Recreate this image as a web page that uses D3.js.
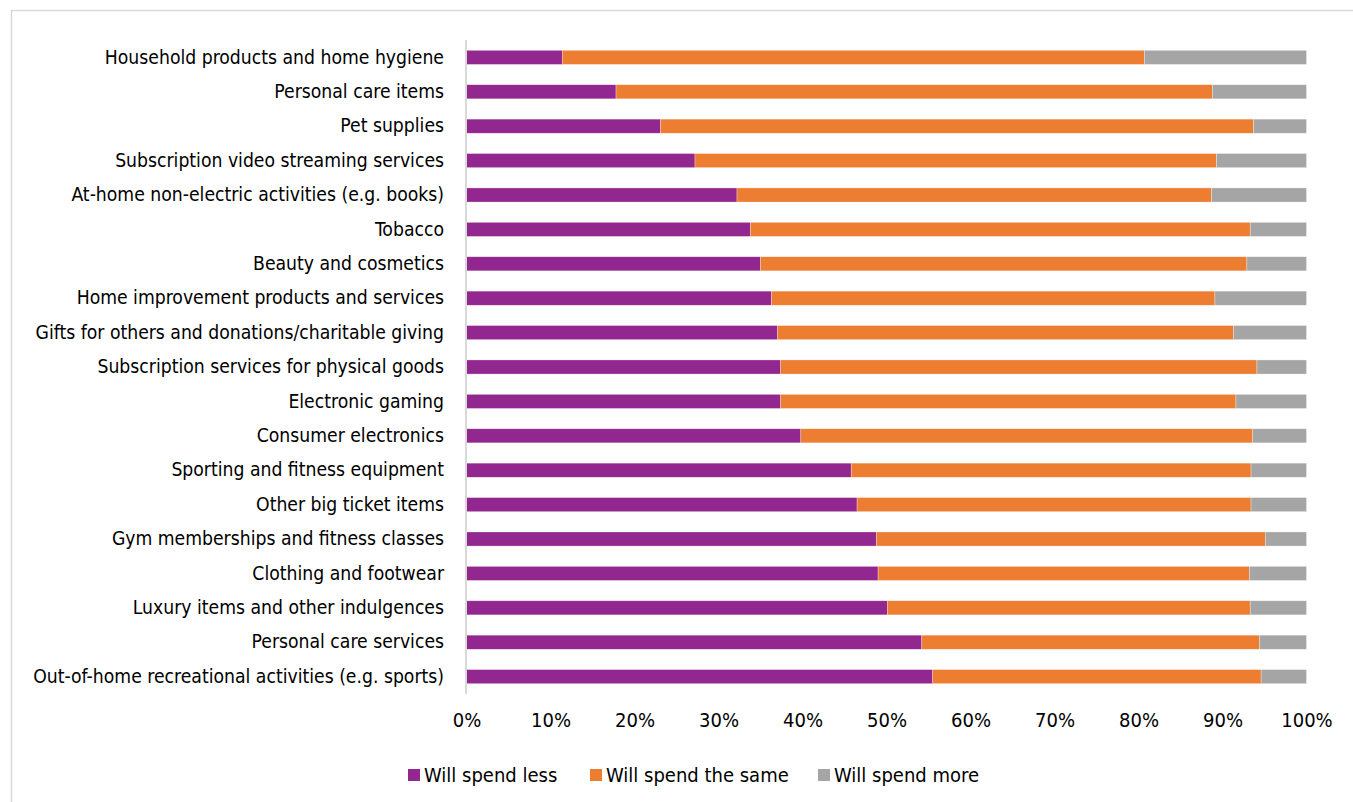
<!DOCTYPE html>
<html>
<head>
<meta charset="utf-8">
<script src="https://cdn.jsdelivr.net/npm/d3@7"></script>
<style>
  body { margin: 0; background: #fff; }
  svg text { font-family: "DejaVu Sans Condensed", "DejaVu Sans", sans-serif; font-stretch: condensed; fill: #000; }
</style>
</head>
<body>
<div id="chart"></div>
<script>
(function () {
    // Data
    const categories = [
        "Household products and home hygiene",
        "Personal care items",
        "Pet supplies",
        "Subscription video streaming services",
        "At-home non-electric activities (e.g. books)",
        "Tobacco",
        "Beauty and cosmetics",
        "Home improvement products and services",
        "Gifts for others and donations/charitable giving",
        "Subscription services for physical goods",
        "Electronic gaming",
        "Consumer electronics",
        "Sporting and fitness equipment",
        "Other big ticket items",
        "Gym memberships and fitness classes",
        "Clothing and footwear",
        "Luxury items and other indulgences",
        "Personal care services",
        "Out-of-home recreational activities (e.g. sports)"
    ];
    const seriesNames = ["Will spend less", "Will spend the same", "Will spend more"];
    const spendLess = [11.4, 17.8, 23.1, 27.2, 32.2, 33.8, 35.0, 36.3, 37.0, 37.4, 37.4, 39.8, 45.8, 46.5, 48.8, 49.0, 50.1, 54.2, 55.5];
    const spendSame = [69.3, 71.0, 70.6, 62.1, 56.5, 59.5, 57.9, 52.8, 54.3, 56.7, 54.2, 53.8, 47.6, 46.9, 46.3, 44.2, 43.2, 40.2, 39.1];
    const spendMore = [19.3, 11.2, 6.3, 10.7, 11.3, 6.7, 7.1, 10.9, 8.7, 5.9, 8.4, 6.4, 6.6, 6.6, 4.9, 6.8, 6.7, 5.6, 5.4];
    const tickValues = [0, 0.1, 0.2, 0.3, 0.4, 0.5, 0.6, 0.7, 0.8, 0.9, 1];
    const colors = ["#92278F", "#ED7D31", "#A5A5A5"];

    const W = 1353, H = 802;
    const margin = { top: 40, right: 47, bottom: 108, left: 466 };
    const width = W - margin.left - margin.right;
    const height = H - margin.top - margin.bottom;

    const svgRoot = d3.select("#chart").append("svg")
        .attr("width", W)
        .attr("height", H);

    // chart frame
    svgRoot.append("rect")
        .attr("x", 11.5).attr("y", 10.5)
        .attr("width", W).attr("height", H)
        .attr("fill", "none")
        .attr("stroke", "#d9d9d9")
        .attr("stroke-width", 1.5);

    const svg = svgRoot.append("g")
        .attr("transform", `translate(${margin.left},${margin.top})`);

    const rows = categories.map((c, i) => {
        const total = spendLess[i] + spendSame[i] + spendMore[i];
        return {
            Category: c,
            [seriesNames[0]]: spendLess[i] / total,
            [seriesNames[1]]: spendSame[i] / total,
            [seriesNames[2]]: spendMore[i] / total
        };
    });

    const x = d3.scaleLinear().domain([0, 1]).range([0.5, width + 0.5]);
    const y = d3.scaleBand().domain(categories).range([0, height]).paddingInner(0.59).paddingOuter(0.3);
    const color = d3.scaleOrdinal().domain(seriesNames).range(colors);

    const series = d3.stack().keys(seriesNames)(rows);

    svg.selectAll(".layer")
        .data(series)
        .enter().append("g")
        .attr("class", "layer")
        .attr("fill", d => color(d.key))
        .selectAll("rect")
        .data(d => d)
        .enter().append("rect")
        .attr("x", d => x(d[0]))
        .attr("y", d => y(d.data.Category))
        .attr("width", d => x(d[1]) - x(d[0]))
        .attr("height", y.bandwidth())
        .attr("stroke", "rgba(255,255,255,0.5)")
        .attr("stroke-width", 0.6);

    // category axis
    const yAxis = svg.append("g")
        .attr("class", "axis axis-y")
        .call(d3.axisLeft(y).tickSize(0).tickPadding(22));
    yAxis.select(".domain")
        .attr("stroke", "#d9d9d9")
        .attr("stroke-width", 2)
        .attr("d", `M0,0V${height}`);
    yAxis.selectAll("text")
        .style("font-size", "19.2px")
        .attr("fill", "#000");

    // percent axis
    const xAxis = svg.append("g")
        .attr("class", "axis axis-x")
        .attr("transform", `translate(0,${height})`)
        .call(d3.axisBottom(x).tickValues(tickValues).tickFormat(d3.format(".0%")).tickSize(0).tickPadding(19));
    xAxis.select(".domain").remove();
    xAxis.selectAll("text")
        .style("font-size", "20px")
        .attr("fill", "#000");

    // Legend
    const legendX = [408, 590, 818];
    const legend = svgRoot.selectAll(".legend")
        .data(seriesNames)
        .enter().append("g")
        .attr("class", "legend")
        .attr("transform", (d, i) => `translate(${legendX[i]},775)`);

    legend.append("rect")
        .attr("x", 0)
        .attr("y", -6)
        .attr("width", 12)
        .attr("height", 12)
        .attr("fill", d => color(d));

    legend.append("text")
        .attr("x", 16)
        .attr("dy", ".35em")
        .style("font-size", "20px")
        .text(d => d);
})();
</script>
</body>
</html>
